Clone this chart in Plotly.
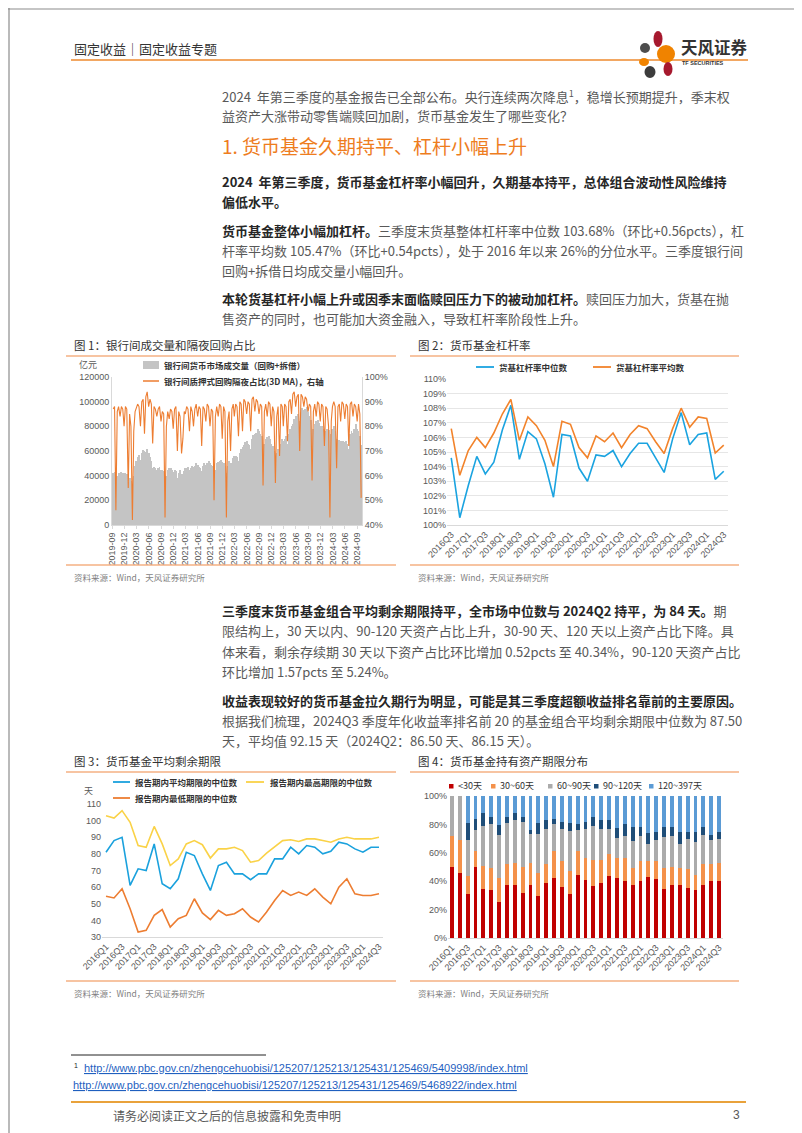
import pandas as pd
import plotly.graph_objects as go

W, H = 802, 1133
CJK = "Noto Sans CJK SC"
NUM = "Liberation Sans, Noto Sans CJK SC"
GREY_TXT = "#595959"


def X(p):
    return p / W


def Y(p):
    return 1 - p / H


# ---------------- data ----------------
# fig 1: interbank volume (亿元), 3 readings per month (10th, 20th, month end), 2019-09 .. 2024-09
volume = [
    (42000, 43000, 36000), (40000, 42000, 41000), (43000, 42000, 40000), (42000, 41000, 35000),
    (38000, 36000, 30000), (40000, 48000, 52000), (55000, 57000, 53000), (58000, 61000, 60000),
    (59000, 62000, 58000), (55000, 52000, 46000), (47000, 46000, 45000), (46000, 47000, 45000),
    (45000, 44000, 38000), (40000, 45000, 46000), (46000, 45000, 43000), (45000, 44000, 38000),
    (42000, 45000, 41000), (40000, 44000, 46000), (46000, 47000, 45000), (46000, 48000, 47000),
    (48000, 50000, 49000), (47000, 46000, 44000), (48000, 50000, 49000), (50000, 52000, 50000),
    (49000, 48000, 42000), (45000, 50000, 51000), (52000, 53000, 51000), (50000, 48000, 42000),
    (48000, 52000, 50000), (50000, 54000, 56000), (56000, 55000, 52000), (58000, 62000, 63000),
    (65000, 67000, 68000), (66000, 65000, 62000), (70000, 73000, 74000), (75000, 78000, 76000),
    (74000, 72000, 65000), (66000, 70000, 71000), (72000, 70000, 66000), (64000, 60000, 56000),
    (58000, 62000, 64000), (66000, 70000, 68000), (70000, 72000, 66000), (74000, 78000, 80000),
    (82000, 86000, 88000), (88000, 90000, 84000), (92000, 95000, 93000), (94000, 96000, 92000),
    (88000, 85000, 76000), (78000, 82000, 84000), (85000, 83000, 80000), (80000, 78000, 72000),
    (76000, 78000, 77000), (70000, 74000, 78000), (80000, 76000, 70000), (67000, 69000, 68000),
    (66000, 68000, 67000), (68000, 66000, 62000), (74000, 76000, 75000), (78000, 82000, 78000),
    (76000, 72000, 65000),
]
# fig 1: overnight repo share (%, 3D MA), same dates
overnight = [
    (87, 88, 46), (86, 88, 84), (88, 87, 80), (88, 87, 55),
    (85, 80, 42), (78, 86, 88), (89, 88, 80), (90, 91, 77), (92, 94, 88), (91, 89, 73),
    (88, 87, 84), (87, 88, 82), (86, 85, 43), (80, 86, 83), (87, 86, 79), (87, 88, 70),
    (86, 84, 69), (75, 86, 85), (88, 87, 78), (88, 86, 80), (87, 89, 84), (88, 87, 72),
    (88, 87, 82), (89, 88, 80), (87, 86, 50), (84, 88, 84), (89, 88, 75), (88, 86, 43),
    (82, 86, 70), (87, 89, 84), (89, 88, 76), (90, 89, 78), (91, 90, 85), (90, 89, 78),
    (91, 92, 86), (91, 90, 85), (89, 88, 56), (86, 89, 84), (90, 89, 80), (88, 86, 57),
    (84, 88, 68), (89, 88, 80), (89, 88, 74), (90, 91, 85), (93, 94, 88), (92, 93, 70),
    (93, 92, 88), (92, 91, 86), (89, 88, 58), (86, 89, 84), (90, 89, 82), (89, 88, 72),
    (88, 87, 80), (43, 82, 88), (90, 88, 63), (88, 89, 82), (90, 89, 83), (89, 88, 72),
    (89, 90, 84), (89, 88, 82), (89, 85, 51),
]
months = pd.date_range("2019-09-01", "2024-09-01", freq="MS")
obs_dates = []
for m in months:
    obs_dates += [m + pd.Timedelta(days=9), m + pd.Timedelta(days=19), m + pd.offsets.MonthEnd(0)]
vol_vals = [v for t in volume for v in t]
on_vals = [v for t in overnight for v in t]
tick_months = pd.date_range("2019-09-01", "2024-09-01", freq="3MS")

# fig 2: leverage 2016Q3 .. 2024Q3
quarters = [f"{y}Q{q}" for y in range(2016, 2025) for q in range(1, 5)][:35]
lev_q = quarters[2:]
lev_median = [104.6, 100.5, 102.7, 104.7, 103.5, 104.3, 106.5, 108.2, 104.5, 106.4, 105.9,
              104.2, 101.9, 106.2, 106.1, 103.9, 103.0, 104.8, 104.7, 105.1, 104.0, 104.9,
              105.6, 105.6, 104.6, 103.6, 105.9, 107.7, 105.5, 106.2, 106.3, 103.12, 103.68]
lev_mean = [106.6, 103.4, 105.1, 106.0, 105.3, 106.3, 107.6, 108.6, 105.8, 107.4, 106.8,
            105.8, 104.0, 107.1, 106.9, 105.3, 104.6, 106.1, 105.7, 106.3, 105.3, 106.2,
            106.8, 106.6, 105.7, 104.9, 106.6, 108.0, 106.7, 107.4, 107.3, 104.93, 105.47]

# fig 3: remaining maturity (days) 2016Q1 .. 2024Q3
wam_avg = [81, 88, 90, 61, 71, 70, 86, 62, 59, 65, 81, 79, 68, 58, 73, 75, 68, 68, 64.5,
           68, 68, 77, 77, 84, 80, 85, 84, 80, 81.5, 87, 86, 83, 81, 84, 84]
wam_max = [103, 101.5, 106, 99, 85, 84, 96.5, 86, 73, 77, 86, 88, 85.5, 77.5, 83, 83, 84, 82,
           75, 76, 80.5, 84.5, 88, 88.5, 87.5, 89, 89, 88, 87, 89, 90, 89, 89, 89, 90]
wam_min = [54.5, 53.5, 59, 47, 33, 34, 43, 46.5, 36, 41, 43, 53, 44.5, 40.5, 46, 43, 44, 47,
           42, 39, 45, 52, 58, 55, 57, 55, 59, 54, 50, 60, 65, 56, 55, 55, 56]

# fig 4: holding maturity distribution (%) 2016Q1 .. 2024Q3
d_lt30 = [50, 45.5, 31, 50, 34.5, 34, 25.5, 37, 37.5, 31.5, 37.5, 29.5, 38.5, 42, 36, 31, 44.5,
          40.5, 36.5, 39, 44, 42, 40, 37, 40, 43, 41.5, 34.5, 37, 37, 35.5, 34, 37.5, 39.82, 40.34]
d_30_60 = [21.5, 23.5, 13, 11, 16.5, 15, 16.5, 15, 15.5, 18.5, 15, 16.5, 13.5, 19, 18, 16, 16.5,
           15.5, 18.5, 16, 15.5, 14.5, 16, 12.5, 14.5, 11.5, 13, 15, 13, 12, 13, 10.5, 14.5, 12.2, 12.2]
d_60_90 = [28.5, 31, 25, 15, 28, 31, 30.5, 29, 30, 31.5, 20.5, 27.5, 25, 19.5, 23, 28.5, 15,
           20.5, 24, 22, 17, 14, 15.5, 19, 17.5, 11.5, 14.5, 21.5, 21.5, 17.5, 21.5, 23, 20.5, 17, 17]
d_90_120 = [0, 0, 12, 8, 9, 5, 7, 4, 5, 4, 3, 7.5, 6, 3, 4.5, 5.5, 4.5, 5.5, 6.5, 6, 6.5, 7, 9,
            10, 6.5, 8, 6, 7, 6.5, 8.5, 4.5, 7, 5.5, 3.67, 5.24]
d_120_397 = [0, 0, 19, 16, 12, 15, 20.5, 15, 12, 14.5, 24, 19, 17, 16.5, 18.5, 19, 19.5, 18, 14.5,
             17, 17, 22.5, 19.5, 21.5, 21.5, 26, 25, 22, 22, 25, 25.5, 25.5, 22, 27.3, 25.22]
mat_names = ["&lt;30天", "30~60天", "60~90天", "90~120天", "120~397天"]
mat_colors = ["#C00000", "#F4914A", "#ABABAB", "#1F4E79", "#5B9BD5"]

# ---------------- figure ----------------
fig = go.Figure()

fig.add_trace(go.Bar(x=obs_dates, y=vol_vals, marker_color="#C4C4C4", marker_line_width=0,
                     width=7 * 86400000, xaxis="x", yaxis="y"))
fig.add_trace(go.Scatter(x=obs_dates, y=on_vals, mode="lines", line=dict(color="#ED7D31", width=1.1),
                         xaxis="x", yaxis="y2"))

fig.add_trace(go.Scatter(x=lev_q, y=lev_median, mode="lines", line=dict(color="#1AA3E0", width=1.6),
                         xaxis="x3", yaxis="y3"))
fig.add_trace(go.Scatter(x=lev_q, y=lev_mean, mode="lines", line=dict(color="#F2832B", width=1.6),
                         xaxis="x3", yaxis="y3"))

for vals, col in [(wam_avg, "#1AA1DD"), (wam_max, "#FAD247"), (wam_min, "#ED7D31")]:
    fig.add_trace(go.Scatter(x=quarters, y=vals, mode="lines", line=dict(color=col, width=1.6),
                             xaxis="x4", yaxis="y4"))

for vals, col in zip([d_lt30, d_30_60, d_60_90, d_90_120, d_120_397], mat_colors):
    fig.add_trace(go.Bar(x=quarters, y=vals, marker_color=col, marker_line_width=0, width=0.5,
                         xaxis="x5", yaxis="y5"))

tick_font = dict(family=NUM, size=9, color=GREY_TXT)
axis_common = dict(tickfont=tick_font, zeroline=False, showgrid=False, fixedrange=True, automargin=False)

fig.update_layout(
    width=W, height=H, margin=dict(l=0, r=0, t=0, b=0, pad=0, autoexpand=False),
    paper_bgcolor="white", plot_bgcolor="white", showlegend=False, barmode="stack",
    xaxis=dict(domain=[X(104), X(354)], anchor="y", type="date",
               range=["2019-09-01", "2024-10-06"], tickvals=list(tick_months),
               ticktext=[d.strftime("%Y-%m") for d in tick_months], tickangle=-90,
               showline=True, linecolor="#D9D9D9", ticks="outside", ticklen=3, tickcolor="#D9D9D9",
               **axis_common),
    yaxis=dict(domain=[Y(517), Y(369)], anchor="x", range=[0, 120000], dtick=20000, tickformat="d",
               showline=True, linecolor="#D9D9D9", **axis_common),
    yaxis2=dict(anchor="x", overlaying="y", side="right", range=[40, 100], dtick=10, ticksuffix="%",
                showline=True, linecolor="#D9D9D9", **axis_common),
    xaxis3=dict(domain=[X(439), X(720)], anchor="y3", type="category", range=[-0.5, 32.5],
                tickvals=lev_q[::2], tickangle=-45, showline=True, linecolor="#D9D9D9", **axis_common),
    yaxis3=dict(domain=[Y(517), Y(371)], anchor="x3", range=[100, 110], dtick=1, ticksuffix="%",
                **{**axis_common, "showgrid": True}, gridcolor="#E6E6E6", gridwidth=0.8),
    xaxis4=dict(domain=[X(94), X(375)], anchor="y4", type="category", range=[-0.5, 34.5],
                tickvals=quarters[::2], tickangle=-45, showline=True, linecolor="#D9D9D9", **axis_common),
    yaxis4=dict(domain=[Y(929), Y(796)], anchor="x4", range=[30, 110], dtick=10, **axis_common),
    xaxis5=dict(domain=[X(440), X(715)], anchor="y5", type="category", range=[-0.5, 34.5],
                tickvals=quarters[::2], tickangle=-45, showline=True, linecolor="#D9D9D9", **axis_common),
    yaxis5=dict(domain=[Y(930), Y(788)], anchor="x5", range=[0, 100], dtick=20, ticksuffix="%",
                **axis_common),
)

shapes = []
ann = []


def line(x0, y0, x1, y1, color, width=1.0):
    shapes.append(dict(type="line", xref="paper", yref="paper", x0=X(x0), y0=Y(y0), x1=X(x1), y1=Y(y1),
                       line=dict(color=color, width=width)))


def rect(x0, y0, x1, y1, color):
    shapes.append(dict(type="rect", xref="paper", yref="paper", x0=X(x0), y0=Y(y0), x1=X(x1), y1=Y(y1),
                       fillcolor=color, line=dict(width=0)))


def oval(cx, cy, rx, ry, color):
    shapes.append(dict(type="circle", xref="paper", yref="paper", x0=X(cx - rx), x1=X(cx + rx),
                       y0=Y(cy + ry), y1=Y(cy - ry), fillcolor=color, line=dict(width=0)))


def txt(x, y, s, size=13, color=GREY_TXT, xanchor="left", family=CJK):
    ann.append(dict(x=X(x), y=Y(y), xref="paper", yref="paper", text=s, showarrow=False,
                    xanchor=xanchor, yanchor="middle", font=dict(family=family, size=size, color=color)))


def bold(s):
    return f"<b><span style='color:#262626'>{s}</span></b>"


# page border
line(1, 0, 1, H, "#8C8C8C", 1.2)
line(801, 0, 801, H, "#8C8C8C", 1.2)
line(0, 1, W, 1, "#8C8C8C", 1.2)
line(0, 1132, W, 1132, "#8C8C8C", 1.2)

# header
txt(64, 40, "固定收益｜固定收益专题", size=13, color="#333333")
line(63, 52, 740, 52, "#EE8A2E", 1.6)
oval(650, 31, 4.5, 8, "#A6192E")
oval(658, 46, 9, 9, "#F08300")
oval(637, 40, 5, 5, "#4D4D4D")
oval(636, 54, 5, 4, "#F08300")
oval(660, 61, 4.5, 7, "#A6192E")
oval(642, 64, 5.5, 6, "#3C3C3C")
txt(671, 39, "<b>天风证券</b>", size=16.5, color="#333333")
txt(672, 55, "<b>TF SECURITIES</b>", size=5.5, color="#333333", family=NUM)

# body text
BX = 212
txt(BX, 88, "2024  年第三季度的基金报告已全部公布。央行连续两次降息<sup>1</sup>，稳增长预期提升，季末权")
txt(BX, 108, "益资产大涨带动零售端赎回加剧，货币基金发生了哪些变化？")
txt(BX, 137, "1. 货币基金久期持平、杠杆小幅上升", size=19, color="#EE7D1E")
txt(BX, 174, bold("2024  年第三季度，货币基金杠杆率小幅回升，久期基本持平，总体组合波动性风险维持"))
txt(BX, 194, bold("偏低水平。"))
txt(BX, 222, bold("货币基金整体小幅加杠杆。") + "三季度末货基整体杠杆率中位数 103.68%（环比+0.56pcts），杠")
txt(BX, 242, "杆率平均数 105.47%（环比+0.54pcts），处于 2016 年以来 26%的分位水平。三季度银行间")
txt(BX, 262, "回购+拆借日均成交量小幅回升。")
txt(BX, 290, bold("本轮货基杠杆小幅上升或因季末面临赎回压力下的被动加杠杆。") + "赎回压力加大，货基在抛")
txt(BX, 310, "售资产的同时，也可能加大资金融入，导致杠杆率阶段性上升。")

txt(BX, 602, bold("三季度末货币基金组合平均剩余期限持平，全市场中位数与 2024Q2 持平，为 84 天。") + "期")
txt(BX, 622, "限结构上，30 天以内、90-120 天资产占比上升，30-90 天、120 天以上资产占比下降。具")
txt(BX, 643, "体来看，剩余存续期 30 天以下资产占比环比增加 0.52pcts 至 40.34%，90-120 天资产占比")
txt(BX, 663, "环比增加 1.57pcts 至 5.24%。")
txt(BX, 692, bold("收益表现较好的货币基金拉久期行为明显，可能是其三季度超额收益排名靠前的主要原因。"))
txt(BX, 712, "根据我们梳理，2024Q3 季度年化收益率排名前 20 的基金组合平均剩余期限中位数为 87.50")
txt(BX, 732, "天，平均值 92.15 天（2024Q2：86.50 天、86.15 天）。")

# chart frames
RULE = "#F4B183"
for (x0, x1, ytitle, ybot, title) in [
    (58, 388, 337, 557, "图 1：银行间成交量和隔夜回购占比"),
    (402, 731, 337, 557, "图 2：货币基金杠杆率"),
    (58, 388, 753, 973, "图 3：货币基金平均剩余期限"),
    (402, 731, 753, 973, "图 4：货币基金持有资产期限分布"),
]:
    txt(x0 + 6, ytitle, title, size=11.5, color="#333333")
    line(x0, ytitle + 11, x1, ytitle + 11, RULE, 1.6)
    line(x0, ybot, x1, ybot, RULE, 1.6)
    txt(x0 + 6, ybot + 12, "资料来源：Wind，天风证券研究所", size=8.5, color="#7F7F7F")

# chart 1 legend
txt(80, 357, "亿元", size=9, color=GREY_TXT, xanchor="center")
rect(135, 353, 151, 361, "#C4C4C4")
txt(154, 357, "<b>银行间货币市场成交量（回购+拆借）</b>", size=8.5, color="#333333")
line(135, 373, 151, 373, "#ED7D31", 1.5)
txt(154, 373, "<b>银行间质押式回购隔夜占比(3D MA)，右轴</b>", size=8.5, color="#333333")

# chart 2 legend
line(468, 359, 486, 359, "#1AA3E0", 1.8)
txt(489, 359, "<b>货基杠杆率中位数</b>", size=8.5, color="#333333")
line(585, 359, 603, 359, "#F2832B", 1.8)
txt(606, 359, "<b>货基杠杆率平均数</b>", size=8.5, color="#333333")

# chart 3 legend
txt(80, 782, "天", size=9, color=GREY_TXT, xanchor="center")
line(105, 774, 122, 774, "#1AA1DD", 1.8)
txt(125, 774, "<b>报告期内平均期限的中位数</b>", size=8.5, color="#333333")
line(238, 774, 256, 774, "#FAD247", 1.8)
txt(260, 774, "<b>报告期内最高期限的中位数</b>", size=8.5, color="#333333")
line(105, 790, 122, 790, "#ED7D31", 1.8)
txt(125, 790, "<b>报告期内最低期限的中位数</b>", size=8.5, color="#333333")

# chart 4 legend
for sx, name, col in zip([441, 483, 540, 586, 641], mat_names, mat_colors):
    rect(sx, 776, sx + 4.5, 780.5, col)
    txt(sx + 7, 778, name, size=9, color="#333333")

# footnote and footer
line(63, 1047, 258, 1047, "#222222", 1)
txt(64, 1057, "<sup>1</sup>", size=10, color="#222222", family=NUM)
txt(74, 1060, "<u>http://www.pbc.gov.cn/zhengcehuobisi/125207/125213/125431/125469/5409998/index.html</u>",
    size=11, color="#1F5FBF", family="Liberation Sans")
txt(63, 1077, "<u>http://www.pbc.gov.cn/zhengcehuobisi/125207/125213/125431/125469/5468922/index.html</u>",
    size=11, color="#1F5FBF", family="Liberation Sans")
line(63, 1094, 738, 1094, "#E9A23B", 2.2)
txt(103, 1107, "请务必阅读正文之后的信息披露和免责申明", size=12, color=GREY_TXT)
txt(734, 1107, "3", size=12, color=GREY_TXT, xanchor="right", family=NUM)

fig.update_layout(shapes=shapes, annotations=ann)
fig.write_html("out.html", config={"displayModeBar": False})
